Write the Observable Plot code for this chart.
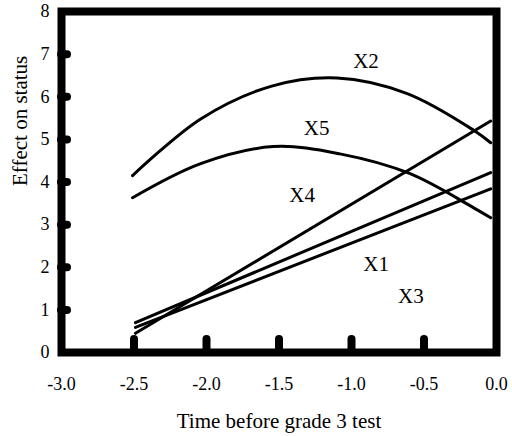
<!DOCTYPE html>
<html>
<head>
<meta charset="utf-8">
<script src="https://cdn.jsdelivr.net/npm/d3@7"></script>
<script src="https://cdn.jsdelivr.net/npm/@observablehq/plot@0.6"></script>
<style>
  html, body { margin: 0; padding: 0; background: #fff; }
  g[aria-label="x-title"] text, g[aria-label="y-title"] text { letter-spacing: 2px; }
</style>
</head>
<body>
<div id="chart"></div>
<script>
// ---- data ----
const x2Time   = [-2.51, -2.04, -1.55, -1.10, -0.62, -0.16, -0.04];
const x2Effect = [ 4.15,  5.48,  6.25,  6.44,  6.08,  5.22,  4.92];

const x5Time   = [-2.51, -2.04, -1.54, -1.08, -0.60, -0.16, -0.04];
const x5Effect = [ 3.63,  4.43,  4.83,  4.66,  4.20,  3.40,  3.16];

const x4Time   = [-2.49, -0.04];
const x4Effect = [ 0.45,  5.43];
const x1Time   = [-2.49, -0.04];
const x1Effect = [ 0.70,  4.22];
const x3Time   = [-2.49, -0.04];
const x3Effect = [ 0.59,  3.84];

const labelNames  = ["X2", "X5", "X4", "X1", "X3"];
const labelTime   = [-0.90, -1.24, -1.34, -0.83, -0.59];
const labelEffect = [ 6.84,  5.27,  3.68,  2.06,  1.31];

const xTicks      = [-3.0, -2.5, -2.0, -1.5, -1.0, -0.5, 0.0];
const xTickLabels = ["-3.0", "-2.5", "-2.0", "-1.5", "-1.0", "-0.5", "0.0"];
const yTicks      = [0, 1, 2, 3, 4, 5, 6, 7, 8];
const xStubs      = [-2.5, -2.0, -1.5, -1.0, -0.5];
const yStubs      = [1, 2, 3, 4, 5, 6, 7];

const xTitle = "Time before grade 3 test";
const yTitle = "Effect on status";

// ---- build tables ----
const toRows = (name, xs, ys) => xs.map((t, i) => ({series: name, time: t, effect: ys[i]}));
const curves = [...toRows("X2", x2Time, x2Effect), ...toRows("X5", x5Time, x5Effect)];
const lines = [...toRows("X4", x4Time, x4Effect), ...toRows("X1", x1Time, x1Effect), ...toRows("X3", x3Time, x3Effect)];
const labels = labelNames.map((n, i) => ({name: n, time: labelTime[i], effect: labelEffect[i]}));

const W = 512, H = 436;
const mL = 61, mR = 16, mT = 11, mB = 84;
const frameW = W - mL - mR, frameH = H - mT - mB;

const chart = Plot.plot({
  width: W,
  height: H,
  marginLeft: mL,
  marginRight: mR,
  marginTop: mT,
  marginBottom: mB,
  style: {fontFamily: "'Liberation Serif', 'Times New Roman', serif", background: "#fff", color: "#000"},
  x: {domain: [-3, 0]},
  y: {domain: [0, 8]},
  marks: [
    Plot.line(curves, {x: "time", y: "effect", z: "series", curve: "catmull-rom", stroke: "#000", strokeWidth: 3}),
    Plot.line(lines, {x: "time", y: "effect", z: "series", stroke: "#000", strokeWidth: 3}),
    Plot.text(labels, {x: "time", y: "effect", text: "name", fontSize: 21, fill: "#000"}),
    Plot.tickY(yStubs, {y: d => d, stroke: "#000", strokeWidth: 8, strokeLinecap: "round", insetRight: frameW - 6}),
    Plot.tickX(xStubs, {x: d => d, stroke: "#000", strokeWidth: 8, strokeLinecap: "round", insetTop: frameH - 13}),
    Plot.frame({stroke: "#000", strokeWidth: 8}),
    Plot.axisX(xTicks, {tickSize: 0, tickPadding: 25, fontSize: 18, label: null, tickFormat: (d, i) => xTickLabels[i]}),
    Plot.axisY(yTicks, {tickSize: 0, tickPadding: 12, fontSize: 18, label: null, tickFormat: d => String(d)}),
    Plot.text([xTitle], {frameAnchor: "bottom", dy: 75, lineAnchor: "bottom", fontSize: 21, ariaLabel: "x-title"}),
    Plot.text([yTitle], {frameAnchor: "left", dx: -41, dy: 4, rotate: -90, fontSize: 21, ariaLabel: "y-title"})
  ]
});
document.getElementById("chart").appendChild(chart);
</script>
</body>
</html>
